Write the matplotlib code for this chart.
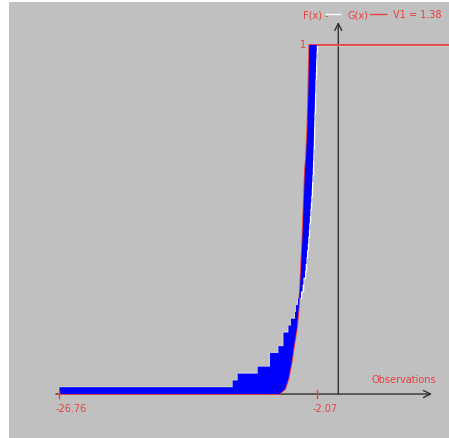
import matplotlib
matplotlib.use("Agg")
import matplotlib.pyplot as plt
from matplotlib.patches import Rectangle

# Sorted observations (empirical distribution F)
observations = [
    -26.76, -10.13, -9.65, -7.73, -6.55, -6.55, -5.75, -5.27, -5.27, -4.79,
    -4.54, -4.15, -4.06, -3.86, -3.58, -3.43, -3.34, -3.19, -3.14, -3.05,
    -3.00, -2.93, -2.88, -2.83, -2.78, -2.73, -2.68, -2.64, -2.59, -2.55,
    -2.52, -2.48, -2.45, -2.43, -2.40, -2.38, -2.36, -2.34, -2.33, -2.31,
    -2.29, -2.27, -2.25, -2.23, -2.20, -2.19, -2.16, -2.14, -2.12, -2.09,
    -2.07,
]

# Fitted distribution G(x)
g_x = [-26.76, -5.66, -5.11, -4.79, -4.47, -4.25, -3.99, -3.83, -3.77,
       -3.67, -3.45, -3.19, -3.10, -2.97, -2.88, -2.78, -2.07]
g_y = [0.0, 0.0, 0.014, 0.043, 0.092, 0.138, 0.186, 0.234, 0.258,
       0.301, 0.436, 0.645, 0.673, 0.759, 0.855, 1.0, 1.0]

x_min_label = "-26.76"
x_max_label = "-2.07"
stat_label = "V1 = 1.38"

W, H = 449, 439
RED = "#e84040"
AXIS = "#303030"

fig = plt.figure(figsize=(W / 100, H / 100), dpi=100)
fig.patch.set_facecolor("white")

ax = fig.add_axes([0, 0, 1, 1])
ax.set_xlim(-32.45, 10.62)
ax.set_ylim(-0.126, 1.1318)
ax.axis("off")
ax.add_patch(Rectangle((9 / W, 0), 1 - 9 / W, (H - 3) / H,
                       transform=ax.transAxes, facecolor="#c0c0c0",
                       edgecolor="none", zorder=0))


def px(xp, yp):
    return xp / W, 1 - yp / H


n = len(observations)
# step path of F (left to right)
fx, fy = [observations[0]], [0.0]
for k, xo in enumerate(observations, start=1):
    fx += [xo, xo]
    fy += [fy[-1], k / n]

# axes with arrows
ax.annotate("", xy=(8.99, 0), xytext=(-27.08, 0),
            arrowprops=dict(arrowstyle="->,head_length=0.5,head_width=0.25",
                            color=AXIS, lw=1.0, shrinkA=0, shrinkB=0), zorder=1)
ax.annotate("", xy=(0, 1.066), xytext=(0, 0),
            arrowprops=dict(arrowstyle="->,head_length=0.5,head_width=0.25",
                            color=AXIS, lw=1.0, shrinkA=0, shrinkB=0), zorder=1)

# curves
ax.plot(fx[1:] + [10.62], fy[1:] + [1.0], color="white", lw=1.0, zorder=2)
ax.plot(g_x + [10.62], g_y + [1.0], color=RED, lw=1.3, zorder=3)

# area between F and G, painted over the curve edges
poly_x = fx + g_x[::-1]
poly_y = fy + g_y[::-1]
ax.fill(poly_x, poly_y, color="#0000ff", lw=0, zorder=4)

# ticks and labels on the x axis
for xv, lab in [(observations[0], x_min_label), (observations[-1], x_max_label)]:
    ax.plot([xv, xv], [-0.012, 0.012], color=RED, lw=1.0, zorder=5)
    ax.text(xv - 4 / 10.425, -0.04, lab, color=RED, fontsize=7,
            ha="left", va="center", zorder=5)

ax.text(-2.07 + (306 - 316.7) / 10.425, 1.004, "1", color=RED, fontsize=7,
        ha="right", va="center")

ax.text(*px(371, 380), "Observations", color=RED, fontsize=7,
        ha="left", va="center", transform=ax.transAxes)

# legend line
ax.text(*px(303, 15), "F(x) -", color=RED, fontsize=7, ha="left",
        va="center", transform=ax.transAxes)
ax.plot([326 / W, 340 / W], [1 - 15 / H, 1 - 15 / H], color="white", lw=1.0,
        transform=ax.transAxes)
ax.text(*px(347, 15), "G(x)", color=RED, fontsize=7, ha="left",
        va="center", transform=ax.transAxes)
ax.plot([370 / W, 386 / W], [1 - 15 / H, 1 - 15 / H], color=RED, lw=1.0,
        transform=ax.transAxes)
ax.text(*px(393, 15), stat_label, color=RED, fontsize=7, ha="left",
        va="center", transform=ax.transAxes)

fig.savefig("out.png", dpi=100, facecolor="white")
